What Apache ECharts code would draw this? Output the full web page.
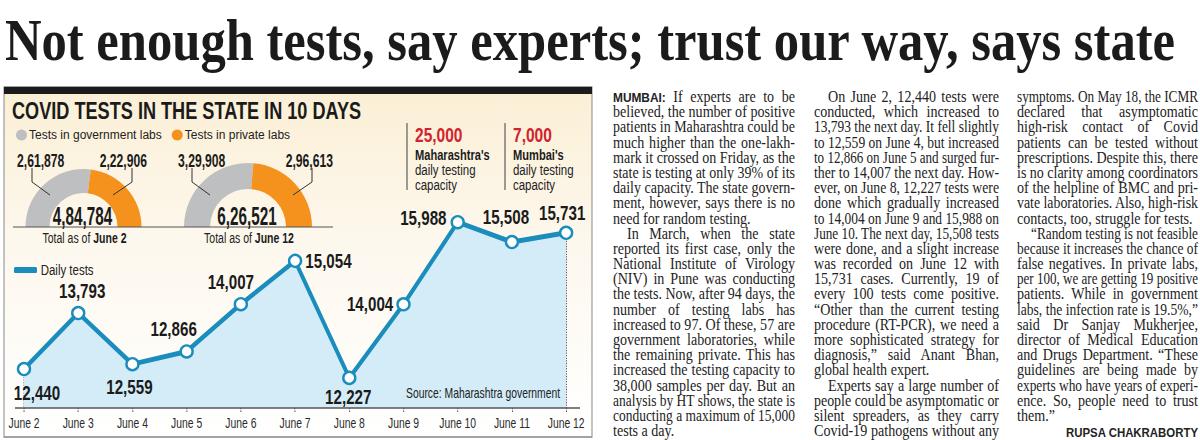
<!DOCTYPE html>
<html>
<head>
<meta charset="utf-8">
<script src="https://cdn.jsdelivr.net/npm/echarts@6.0.0/dist/echarts.min.js"></script>
<style>
  html, body { margin:0; padding:0; background:#fff; }
  body { width:1200px; height:440px; overflow:hidden; position:relative; }
  #headline { position:absolute; left:5px; top:10px; white-space:nowrap; font-family:'Liberation Serif','DejaVu Serif',serif; font-weight:bold; font-size:60px; line-height:60px; color:#1b1b1b; transform-origin:0 0; }
  #chartB { position:absolute; left:0; top:80px; height:360px; transform-origin:0 0; }
  #chartA { position:absolute; left:0; top:80px; width:600px; height:360px; }
  .col { position:absolute; top:89px; font-family:'Liberation Serif','DejaVu Serif',serif; font-size:16px; line-height:15.2px; color:#222; }
  .ln { height:15.2px; white-space:nowrap; }
  .ln span { display:inline-block; white-space:nowrap; transform-origin:0 50%; }
  .dl { font-family:'Liberation Sans','DejaVu Sans',sans-serif; font-weight:bold; font-size:13.5px; }
  #byline { position:absolute; left:1066px; top:427px; font-family:'Liberation Sans','DejaVu Sans',sans-serif; font-weight:bold; font-size:12.5px; line-height:12px; color:#222; white-space:nowrap; transform-origin:0 0; }
</style>
</head>
<body>
<div id="headline">Not enough tests, say experts; trust our way, says state</div>
<div id="chartB"></div>
<div id="chartA"></div>
<div class="col" id="col1" style="left:613px; width:182px;"></div>
<div class="col" id="col2" style="left:814px; width:185px;"></div>
<div class="col" id="col3" style="left:1017px; width:181px;"></div>
<div id="byline">RUPSA CHAKRABORTY</div>
<script>
// ---------------- chart data ----------------
const categories = ['June 2','June 3','June 4','June 5','June 6','June 7','June 8','June 9','June 10','June 11','June 12'];
const dailyTests = [12440, 13793, 12559, 12866, 14007, 15054, 12227, 14004, 15988, 15508, 15731];
const labNames = ['Tests in government labs', 'Tests in private labs'];
const govLabs = [261878, 329908];
const privateLabs = [222906, 296613];
const gaugeDates = ['June 2', 'June 12'];
const capacityValues = [25000, 7000];
const capacityNames = ["Maharashtra's", "Mumbai's"];
const chartTitle = 'COVID TESTS IN THE STATE IN 10 DAYS';
const lineName = 'Daily tests';
const sourceText = 'Source: Maharashtra government';

// ---------------- article text ----------------
// '>' = indented paragraph start, '|' at end = paragraph end (not justified)
const col1Lines = [
 'MUMBAI: If experts are to be','believed, the number of positive','patients in Maharashtra could be',
 'much higher than the one-lakh-','mark it crossed on Friday, as the','state is testing at only 39% of its',
 'daily capacity. The state govern-','ment, however, says there is no','need for random testing.|',
 '>In March, when the state','reported its first case, only the','National Institute of Virology',
 '(NIV) in Pune was conducting','the tests. Now, after 94 days, the','number of testing labs has',
 'increased to 97. Of these, 57 are','government laboratories, while','the remaining private. This has',
 'increased the testing capacity to','38,000 samples per day. But an','analysis by HT shows, the state is',
 'conducting a maximum of 15,000','tests a day.|'];
const col2Lines = [
 '>On June 2, 12,440 tests were','conducted, which increased to','13,793 the next day. It fell slightly',
 'to 12,559 on June 4, but increased','to 12,866 on June 5 and surged fur-','ther to 14,007 the next day. How-',
 'ever, on June 8, 12,227 tests were','done which gradually increased','to 14,004 on June 9 and 15,988 on',
 'June 10. The next day, 15,508 tests','were done, and a slight increase','was recorded on June 12 with',
 '15,731 cases. Currently, 19 of','every 100 tests come positive.','\u201cOther than the current testing',
 'procedure (RT-PCR), we need a','more sophisticated strategy for','diagnosis,\u201d said Anant Bhan,',
 'global health expert.|','>Experts say a large number of','people could be asymptomatic or',
 'silent spreaders, as they carry','Covid-19 pathogens without any'];
const col3Lines = [
 'symptoms. On May 18, the ICMR','declared that asymptomatic','high-risk contact of Covid',
 'patients can be tested without','prescriptions. Despite this, there','is no clarity among coordinators',
 'of the helpline of BMC and pri-','vate laboratories. Also, high-risk','contacts, too, struggle for tests.|',
 '>\u201cRandom testing is not feasible','because it increases the chance of','false negatives. In private labs,',
 'per 100, we are getting 19 positive','patients. While in government','labs, the infection rate is 19.5%,\u201d',
 'said Dr Sanjay Mukherjee,','director of Medical Education','and Drugs Department. \u201cThese',
 'guidelines are being made by','experts who have years of experi-','ence. So, people need to trust',
 'them.\u201d|'];

function buildCol(id, lines) {
  const col = document.getElementById(id);
  lines.forEach(raw => {
    let t = raw, ind = false, end = false;
    if (t.startsWith('>')) { ind = true; t = t.slice(1); }
    if (t.endsWith('|')) { end = true; t = t.slice(0, -1); }
    const ln = document.createElement('div');
    ln.className = 'ln' + (ind ? ' ind' : '') + (end ? ' e' : '');
    const sp = document.createElement('span');
    if (t.startsWith('MUMBAI:')) {
      sp.innerHTML = '<b class="dl">MUMBAI:</b> ' + t.slice(8);
    } else sp.textContent = t;
    ln.appendChild(sp);
    col.appendChild(ln);
  });
}
buildCol('col1', col1Lines);
buildCol('col2', col2Lines);
buildCol('col3', col3Lines);

const S0 = 0.88;
document.querySelectorAll('.col').forEach(col => {
  const W = col.clientWidth;
  col.querySelectorAll('.ln').forEach(ln => {
    const sp = ln.firstElementChild;
    const ind = ln.classList.contains('ind') ? 14 : 0;
    const T = W - ind;
    const w = sp.getBoundingClientRect().width;
    const nsp = (sp.textContent.trim().match(/ /g) || []).length;
    let s = S0;
    if (w * S0 > T) s = T / w;
    else if (!ln.classList.contains('e') && nsp > 0) {
      sp.style.wordSpacing = ((T / S0 - w) / nsp) + 'px';
    }
    sp.style.transform = 'scaleX(' + s + ')';
    sp.style.marginLeft = ind + 'px';
  });
});
(function () {
  const h = document.getElementById('headline');
  const w = h.getBoundingClientRect().width;
  h.style.transform = 'scaleX(' + (1170 / w) + ')';
  const b = document.getElementById('byline');
  const bw = b.getBoundingClientRect().width;
  b.style.transform = 'scaleX(' + (132 / bw) + ')';
})();

// ---------------- helpers ----------------
function fmtIN(n) {
  const s = String(Math.round(n));
  if (s.length <= 3) return s;
  const last3 = s.slice(-3);
  const rest = s.slice(0, -3).replace(/\B(?=(\d{2})+(?!\d))/g, ',');
  return rest + ',' + last3;
}
const SF = "'Liberation Sans','Arimo',sans-serif";
const BLUE = '#1a8dbd';
const GREY = '#bdbfc1';
const ORANGE = '#f5921e';
const INK = '#1b1b1b';
const yMin = 11500, yMax = 16500;

// Chart B is drawn wide and compressed horizontally (condensed newspaper type)
const K = 0.74;
const X = px => px / K;
const divB = document.getElementById('chartB');
divB.style.width = X(600) + 'px';
divB.style.transform = 'scaleX(' + K + ')';

// label placement for each point (style only)
const labelLayout = [
  { position: 'bottom', distance: 6, offset: [X(13), 0] },
  { position: 'top', distance: 4, offset: [X(4), 0] },
  { position: 'bottom', distance: 5, offset: [X(-3), 0] },
  { position: 'top', distance: 5, offset: [X(-13), 0] },
  { position: 'top', distance: 4, offset: [X(-10), 0] },
  { position: 'right', distance: X(3), offset: [0, 0] },
  { position: 'bottom', distance: 2, offset: [X(-1), 0] },
  { position: 'left', distance: X(3), offset: [0, 0] },
  { position: 'left', distance: X(4), offset: [0, -4] },
  { position: 'top', distance: 7, offset: [X(-6), 0] },
  { position: 'top', distance: 2, offset: [X(-4), 0] }
];

// ---------------- chart B: frame, title, capacity, line chart ----------------
const gB = [];
gB.push({ type: 'rect', z: -10, shape: { x: X(4), y: 7, width: X(588), height: 350 },
  style: { fill: new echarts.graphic.LinearGradient(0, 0, 0, 1, [
    { offset: 0, color: '#fbefd5' }, { offset: 0.45, color: '#fdf8ee' }, { offset: 1, color: '#ffffff' }]),
    stroke: '#858585', lineWidth: 1.3 } });
gB.push({ type: 'rect', z: 5, shape: { x: X(4), y: 7, width: X(588), height: 7 }, style: { fill: INK } });
gB.push({ type: 'line', z: 5, shape: { x1: X(15), y1: 328, x2: X(580), y2: 328 }, style: { stroke: '#555', lineWidth: 1.5 } });

const capX = [407, 505];
capacityValues.forEach((v, i) => {
  const x = X(capX[i]), tx = X(capX[i] + 8);
  gB.push({ type: 'line', z: 6, shape: { x1: x, y1: 43, x2: x, y2: 110 }, style: { stroke: '#444', lineWidth: 1.4 } });
  gB.push({ type: 'text', z: 6, style: { text: fmtIN(v), x: tx, y: 55, verticalAlign: 'middle', fontFamily: SF, fontWeight: 'bold', fontSize: 21, fill: '#d1232e' } });
  gB.push({ type: 'text', z: 6, style: {
    text: '{b|' + capacityNames[i] + '}\n{r|daily testing}\n{r|capacity}', x: tx, y: 67.5, verticalAlign: 'top',
    fontFamily: SF, fontSize: 15.5, lineHeight: 15, fill: '#222',
    rich: { b: { fontFamily: SF, fontWeight: 'bold', fontSize: 15, lineHeight: 15, fill: INK },
            r: { fontFamily: SF, fontSize: 15.5, lineHeight: 15, fill: '#222' } } } });
});
gB.push({ type: 'text', z: 6, style: { text: sourceText, x: X(406), y: 313, verticalAlign: 'middle', fontFamily: SF, fontSize: 14, fill: '#222' } });

const chartB = echarts.init(divB, null, { renderer: 'svg' });
chartB.setOption({
  animation: false,
  title: { text: chartTitle, left: X(12), top: 18, padding: 0, textStyle: { fontFamily: SF, fontWeight: 'bold', fontSize: 24.5, color: INK } },
  legend: {
    data: [{ name: lineName, itemStyle: { color: BLUE, borderWidth: 0 } }], left: X(14), top: 182, padding: 0,
    icon: 'roundRect', itemWidth: X(23), itemHeight: 6, selectedMode: false,
    textStyle: { fontFamily: SF, fontSize: 15.5, color: '#222' }
  },
  grid: { left: X(24), right: X(34), top: 121, bottom: 32, containLabel: false },
  xAxis: {
    type: 'category', data: categories, boundaryGap: false,
    axisLine: { show: false },
    axisTick: { show: true, length: 5, lineStyle: { type: 'dotted', color: '#444', width: 1.3 } },
    axisLabel: { interval: 0, margin: 8, fontFamily: SF, fontSize: 14, color: '#2a2a2a' },
    splitLine: { show: false }
  },
  yAxis: { type: 'value', min: yMin, max: yMax, show: false },
  series: [
    { type: 'line', name: lineName, z: 4,
      data: dailyTests.map((v, i) => ({ value: v, label: labelLayout[i] })),
      symbol: 'circle', symbolSize: [X(12), 12],
      itemStyle: { color: '#ffffff', borderColor: BLUE, borderWidth: 2.8 },
      lineStyle: { color: BLUE, width: 5 },
      areaStyle: { color: '#d3ecf8', opacity: 1, origin: 'start' },
      label: { show: true, fontFamily: SF, fontWeight: 'bold', fontSize: 20.5, color: INK, formatter: p => fmtIN(p.value) },
      emphasis: { disabled: true },
      markLine: { silent: true, symbol: ['none', 'none'], label: { show: false }, z: 3,
        lineStyle: { type: 'dotted', color: '#444', width: 1.3 },
        data: dailyTests.map((v, i) => [{ coord: [i, v] }, { coord: [i, yMin] }]) }
    }
  ],
  graphic: gB
});

// ---------------- chart A: the two half-donut gauges (not compressed) ----------------
const gauges = [
  { cx: 83.5, cy: 147, r: [34, 58], govX: 17, privX: 147, gl: [[32, 88], [32, 102], [50, 115]], pl: [[132, 88], [132, 102], [113, 115]] },
  { cx: 248, cy: 147, r: [38, 64], govX: 178, privX: 333, gl: [[192, 88], [192, 102], [210, 115]], pl: [[312, 88], [312, 102], [293, 115]] }
];
const gA = [];
gA.push({ type: 'line', z: 5, shape: { x1: 13, y1: 147, x2: 333, y2: 147 }, style: { stroke: '#555', lineWidth: 1.1 } });
gauges.forEach((g, i) => {
  gA.push({ type: 'polyline', z: 6, shape: { points: g.gl }, style: { stroke: '#333', lineWidth: 1, fill: null } });
  gA.push({ type: 'polyline', z: 6, shape: { points: g.pl }, style: { stroke: '#333', lineWidth: 1, fill: null } });
  gA.push({ type: 'text', z: 6, x: g.govX, y: 80, scaleX: 0.64,
    style: { text: fmtIN(govLabs[i]), x: 0, y: 0, align: 'left', verticalAlign: 'middle', fontFamily: SF, fontWeight: 'bold', fontSize: 19, fill: INK } });
  gA.push({ type: 'text', z: 6, x: g.privX, y: 80, scaleX: 0.64,
    style: { text: fmtIN(privateLabs[i]), x: 0, y: 0, align: 'right', verticalAlign: 'middle', fontFamily: SF, fontWeight: 'bold', fontSize: 19, fill: INK } });
  gA.push({ type: 'text', z: 6, x: g.cx - 1, y: 136, scaleX: 0.61,
    style: { text: fmtIN(govLabs[i] + privateLabs[i]), x: 0, y: 0, align: 'center', verticalAlign: 'middle', fontFamily: SF, fontWeight: 'bold', fontSize: 25, fill: INK } });
  gA.push({ type: 'text', z: 6, x: g.cx + 1, y: 158, scaleX: 0.75,
    style: { text: 'Total as of {b|' + gaugeDates[i] + '}', x: 0, y: 0, align: 'center', verticalAlign: 'middle', fontFamily: SF, fontSize: 14, fill: '#222',
      rich: { b: { fontFamily: SF, fontSize: 14, fontWeight: 'bold', fill: INK } } } });
});

const chartA = echarts.init(document.getElementById('chartA'), null, { renderer: 'svg' });
chartA.setOption({
  animation: false,
  backgroundColor: 'transparent',
  color: [GREY, ORANGE],
  legend: {
    data: labNames, left: 16, top: 49, padding: 0, icon: 'circle', itemWidth: 11, itemHeight: 11, itemGap: 10, selectedMode: false,
    textStyle: { fontFamily: SF, fontSize: 12, color: '#222', padding: [0, 0, 0, -3] }
  },
  series: gauges.map((g, i) => ({
    type: 'pie', name: 'Total as of ' + gaugeDates[i], center: [g.cx, g.cy], radius: g.r, startAngle: 180, endAngle: 0,
    label: { show: false }, labelLine: { show: false }, emphasis: { disabled: true }, silent: true,
    data: labNames.map((n, k) => ({ name: n, value: k === 0 ? govLabs[i] : privateLabs[i] }))
  })),
  graphic: gA
});
</script>
</body>
</html>
